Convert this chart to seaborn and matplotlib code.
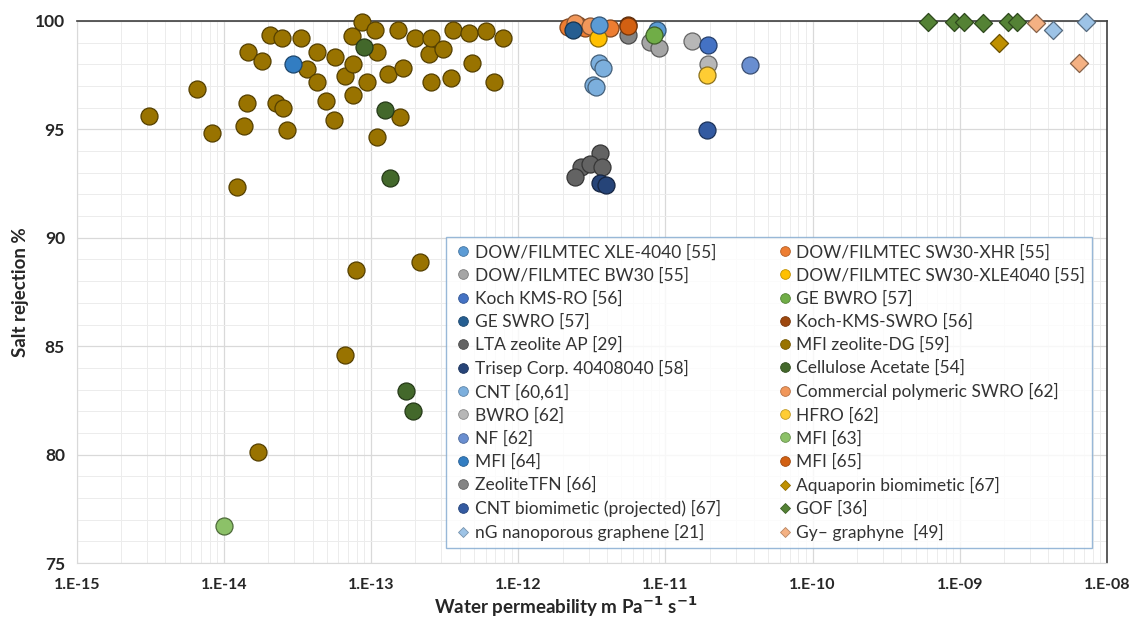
import numpy as np
import pandas as pd
import matplotlib
matplotlib.use('Agg')
import matplotlib.pyplot as plt
import matplotlib.ticker as mticker
from matplotlib.lines import Line2D
import matplotlib.colors as mcolors
import seaborn as sns

# series names in legend (row-wise order as in the picture)
names = [
    'DOW/FILMTEC XLE-4040 [55]', 'DOW/FILMTEC SW30-XHR [55]',
    'DOW/FILMTEC BW30 [55]', 'DOW/FILMTEC SW30-XLE4040 [55]',
    'Koch KMS-RO [56]', 'GE BWRO [57]',
    'GE SWRO [57]', 'Koch-KMS-SWRO [56]',
    'LTA zeolite AP [29]', 'MFI zeolite-DG [59]',
    'Trisep Corp. 40408040 [58]', 'Cellulose Acetate [54]',
    'CNT [60,61]', 'Commercial polymeric SWRO [62]',
    'BWRO [62]', 'HFRO [62]',
    'NF [62]', 'MFI [63]',
    'MFI [64]', 'MFI [65]',
    'ZeoliteTFN [66]', 'Aquaporin biomimetic [67]',
    'CNT biomimetic (projected) [67]', 'GOF [36]',
    'nG nanoporous graphene [21]', 'Gy\u2013 graphyne  [49]',
]

colors = [
    '#5b9bd5', '#ed7d31', '#a5a5a5', '#ffc000', '#4472c4', '#70ad47',
    '#255e91', '#9e480e', '#636363', '#997300', '#264478', '#43682b',
    '#7cafdd', '#f1975a', '#b7b7b7', '#ffcd33', '#698ed0', '#8cc168',
    '#327dc2', '#d26012', '#848484', '#bf9000', '#335aa1', '#548235',
    '#9dc3e6', '#f4b183',
]
diamonds = {'Aquaporin biomimetic [67]', 'GOF [36]',
            'nG nanoporous graphene [21]', 'Gy\u2013 graphyne  [49]'}

# data: permeability (m/Pa/s) and salt rejection (%)
xle_x = [3.52e-12, 8.7e-12]
xle_y = [99.8, 99.57]
xhr_x = [2.17e-12, 2.53e-12, 2.83e-12, 4.18e-12]
xhr_y = [99.7, 99.8, 99.66, 99.66]
bw30_x = [7.8e-12, 9.1e-12]
bw30_y = [99.02, 98.74]
xle4040_x = [3.46e-12]
xle4040_y = [99.2]
kmsro_x = [1.96e-11]
kmsro_y = [98.88]
gebwro_x = [8.3e-12]
gebwro_y = [99.34]
geswro_x = [2.34e-12]
geswro_y = [99.57]
kmsswro_x = [5.54e-12]
kmsswro_y = [99.8]
lta_x = [3.57e-12, 2.65e-12, 3.05e-12, 3.69e-12, 2.42e-12]
lta_y = [93.9, 93.26, 93.39, 93.26, 92.8]
mfidg_x = [3.1e-15, 6.6e-15, 8.3e-15, 1.22e-14, 1.36e-14, 1.43e-14, 1.45e-14,
           1.7e-14, 1.81e-14, 2.05e-14, 2.25e-14, 2.47e-14, 2.51e-14, 2.67e-14,
           3.32e-14, 3.65e-14, 4.27e-14, 4.27e-14, 4.92e-14, 5.57e-14, 5.66e-14,
           6.62e-14, 6.62e-14, 7.38e-14, 7.5e-14, 7.5e-14, 7.86e-14, 8.63e-14,
           9.33e-14, 1.06e-13, 1.09e-13, 1.09e-13, 1.3e-13, 1.52e-13, 1.56e-13,
           1.64e-13, 1.98e-13, 2.14e-13, 2.46e-13, 2.54e-13, 2.54e-13, 3.06e-13,
           3.47e-13, 3.58e-13, 4.6e-13, 4.82e-13, 6.01e-13, 6.81e-13, 7.83e-13]
mfidg_y = [95.6, 96.85, 94.85, 92.35, 95.15, 96.2, 98.55,
           80.1, 98.15, 99.35, 96.2, 99.2, 96.0, 94.95,
           99.2, 97.8, 98.55, 97.2, 96.3, 95.45, 98.35,
           97.45, 84.6, 99.3, 98.0, 96.6, 88.5, 99.95,
           97.2, 99.6, 98.55, 94.65, 97.55, 99.6, 95.55,
           97.85, 99.2, 88.9, 98.5, 99.2, 97.2, 98.7,
           97.35, 99.6, 99.45, 98.05, 99.55, 97.2, 99.2]
trisep_x = [3.57e-12, 3.93e-12]
trisep_y = [92.52, 92.43]
ca_x = [8.9e-14, 1.24e-13, 1.34e-13, 1.72e-13, 1.92e-13]
ca_y = [98.8, 95.9, 92.75, 82.95, 82.0]
cnt_x = [3.52e-12, 3.74e-12, 3.2e-12, 3.36e-12]
cnt_y = [98.05, 97.82, 97.04, 96.95]
cswro_x = [2.42e-12, 3.05e-12]
cswro_y = [99.9, 99.75]
bwro_x = [1.51e-11, 1.96e-11]
bwro_y = [99.06, 98.0]
hfro_x = [1.91e-11]
hfro_y = [97.5]
nf_x = [3.73e-11]
nf_y = [97.96]
mfi63_x = [1.0e-14]
mfi63_y = [76.7]
mfi64_x = [2.93e-14]
mfi64_y = [98.0]
mfi65_x = [5.6e-12]
mfi65_y = [99.75]
tfn_x = [5.54e-12]
tfn_y = [99.34]
aqua_x = [1.84e-09]
aqua_y = [98.97]
cntbio_x = [1.91e-11]
cntbio_y = [94.96]
gof_x = [6.04e-10, 9.2e-10, 1.06e-09, 1.43e-09, 2.11e-09, 2.43e-09]
gof_y = [99.95, 99.95, 99.95, 99.9, 99.95, 99.95]
ng_x = [4.27e-09, 7.16e-09]
ng_y = [99.6, 99.95]
gy_x = [3.27e-09, 6.41e-09]
gy_y = [99.9, 98.05]

x_ticks = [1e-15, 1e-14, 1e-13, 1e-12, 1e-11, 1e-10, 1e-09, 1e-08]

xs = [xle_x, xhr_x, bw30_x, xle4040_x, kmsro_x, gebwro_x, geswro_x, kmsswro_x,
      lta_x, mfidg_x, trisep_x, ca_x, cnt_x, cswro_x, bwro_x, hfro_x, nf_x,
      mfi63_x, mfi64_x, mfi65_x, tfn_x, aqua_x, cntbio_x, gof_x, ng_x, gy_x]
ys = [xle_y, xhr_y, bw30_y, xle4040_y, kmsro_y, gebwro_y, geswro_y, kmsswro_y,
      lta_y, mfidg_y, trisep_y, ca_y, cnt_y, cswro_y, bwro_y, hfro_y, nf_y,
      mfi63_y, mfi64_y, mfi65_y, tfn_y, aqua_y, cntbio_y, gof_y, ng_y, gy_y]

rows = []
for n, xv, yv in zip(names, xs, ys):
    for a, b in zip(xv, yv):
        rows.append({'series': n, 'perm': a, 'rej': b})
df = pd.DataFrame(rows)

sns.set_style('white')
plt.rcParams['font.family'] = ['Lato', 'DejaVu Sans']

fig, ax = plt.subplots(figsize=(11.29, 6.17), dpi=100)
fig.subplots_adjust(left=0.068, right=0.9805, top=0.966, bottom=0.0875)


def darker(c, f=0.55):
    r, g, b = mcolors.to_rgb(c)
    return (r * f, g * f, b * f)


# draw the order: middle cluster on top of brown etc.
draw_order = [9, 11, 18, 17, 8, 10, 12, 22, 14, 2, 20, 7, 1, 13, 19, 3, 6, 0,
              4, 5, 16, 15, 23, 21, 24, 25]
for i in draw_order:
    n = names[i]
    sub = df[df['series'] == n]
    mk = 'D' if n in diamonds else 'o'
    sz = 85 if mk == 'D' else 150
    sns.scatterplot(data=sub, x='perm', y='rej', ax=ax, marker=mk, s=sz,
                    color=colors[i], edgecolor=darker(colors[i]), linewidth=0.9,
                    legend=False, clip_on=False, zorder=3)

ax.set_xscale('log')
ax.set_xlim(1e-15, 1e-8)
ax.set_ylim(75, 100)
ax.yaxis.set_major_locator(mticker.MultipleLocator(5))
ax.yaxis.set_minor_locator(mticker.MultipleLocator(1))
ax.xaxis.set_major_locator(mticker.FixedLocator(x_ticks))
ax.xaxis.set_minor_locator(mticker.LogLocator(base=10, subs=np.arange(2, 10), numticks=20))
ax.xaxis.set_minor_formatter(mticker.NullFormatter())
ax.xaxis.set_major_formatter(mticker.FuncFormatter(
    lambda v, p: f"1.E{int(round(np.log10(v))):03d}"))

ax.grid(which='major', color='#d9d9d9', lw=0.9)
ax.grid(which='minor', color='#ececec', lw=0.7)
ax.set_axisbelow(True)

for s in ['left', 'bottom']:
    ax.spines[s].set_color('#d9d9d9')
for s in ['top', 'right']:
    ax.spines[s].set_color('#404040')
    ax.spines[s].set_linewidth(1.2)

ax.tick_params(which='both', direction='out', color='#bfbfbf', labelsize=11.5)
ax.tick_params(which='major', length=5)
ax.tick_params(which='minor', length=3)
for lab in ax.get_xticklabels() + ax.get_yticklabels():
    lab.set_fontweight('bold')
    lab.set_color('#262626')
ax.tick_params(axis='x', pad=6)
ax.tick_params(axis='y', labelsize=12.5)

ax.set_ylabel('Salt rejection %', fontsize=13.5, fontweight='bold', color='#262626')
ax.set_xlabel(r'Water permeability m Pa$^{\mathbf{-1}}$ s$^{\mathbf{-1}}$',
              fontsize=13.5, fontweight='bold', color='#262626')
ax.xaxis.set_label_coords(0.475, -0.058)

# legend, filled column-wise so reorder for row-wise reading
handles = []
for i, n in enumerate(names):
    mk = 'D' if n in diamonds else 'o'
    handles.append(Line2D([], [], ls='none', marker=mk,
                          markersize=5.5 if mk == 'D' else 7,
                          markerfacecolor=colors[i],
                          markeredgecolor=darker(colors[i], 0.75),
                          markeredgewidth=0.6, label=n))
order = list(range(0, len(names), 2)) + list(range(1, len(names), 2))
leg = ax.legend([handles[k] for k in order], [names[k] for k in order],
                ncol=2, loc='lower left', bbox_to_anchor=(0.350, 0.012),
                frameon=True, fancybox=False, fontsize=12.5,
                handletextpad=0.05, handlelength=1.2, columnspacing=3.1,
                labelspacing=0.40, borderpad=0.4, labelcolor='#333333')
leg.get_frame().set_edgecolor('#7fa7cf')
leg.get_frame().set_linewidth(1.0)

fig.savefig('out.png', dpi=100)
